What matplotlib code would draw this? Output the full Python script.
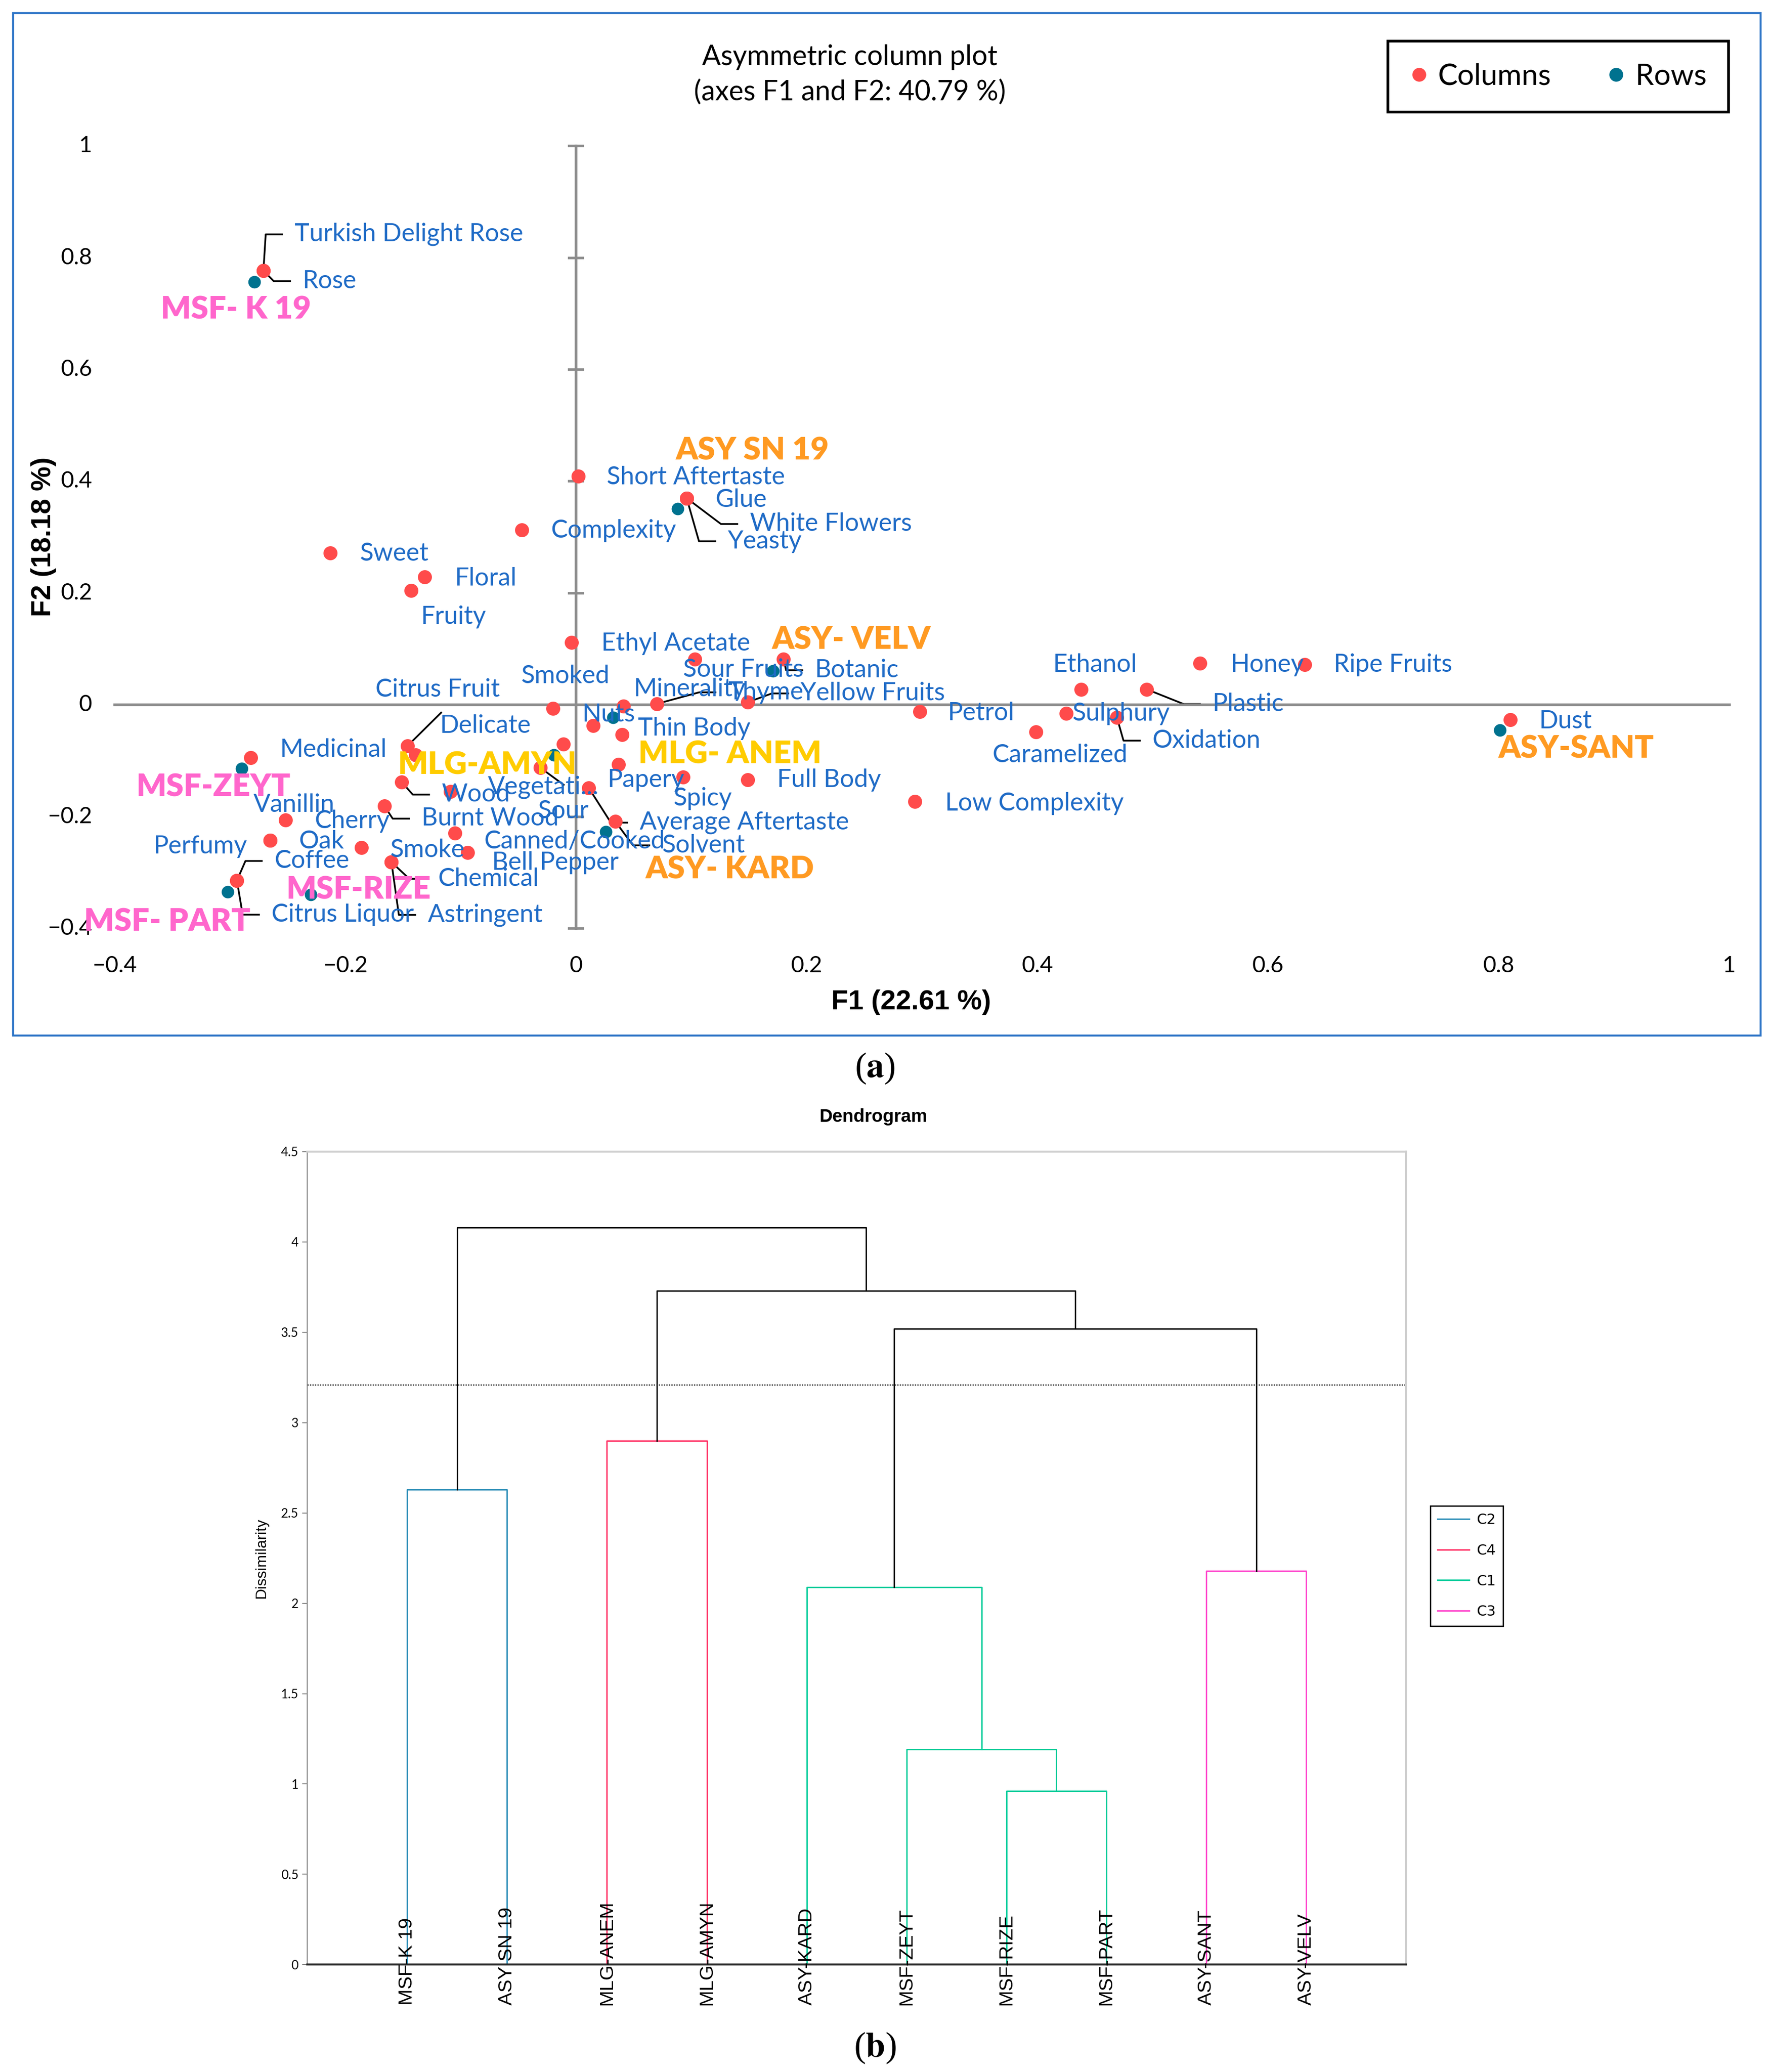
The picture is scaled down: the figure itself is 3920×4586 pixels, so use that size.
import matplotlib.pyplot as plt
from matplotlib.lines import Line2D
from matplotlib.patches import Rectangle

plt.rcParams['font.family'] = ['Lato', 'DejaVu Sans']

# ---- (a) asymmetric column plot: columns = sensory attributes
col_names = ["Turkish Delight Rose", "Rose", "Sweet", "Floral", "Fruity", "Short Aftertaste",
             "Complexity", "Glue", "White Flowers", "Yeasty", "Ethyl Acetate", "Sour Fruits",
             "Botanic", "Smoked", "Nuts", "Minerality", "Thyme", "Yellow Fruits", "Thin Body",
             "Sour", "Papery", "Spicy", "Full Body", "Average Aftertaste", "Solvent", "Vegetati...",
             "Medicinal", "Citrus Fruit", "Delicate", "Wood", "Vanillin", "Burnt Wood", "Cherry",
             "Oak", "Perfumy", "Smoke", "Canned/Cooked", "Bell Pepper", "Chemical", "Astringent",
             "Coffee", "Citrus Liquor", "Petrol", "Ethanol", "Honey", "Ripe Fruits", "Plastic",
             "Sulphury", "Oxidation", "Caramelized", "Low Complexity", "Dust"]
col_f1 = [-0.271, -0.271, -0.213, -0.131, -0.143, 0.002,
          -0.047, 0.096, 0.096, 0.096, -0.004, 0.103,
          0.180, -0.020, 0.015, 0.041, 0.070, 0.149, 0.040,
          -0.011, 0.037, 0.093, 0.149, 0.011, 0.034, -0.031,
          -0.282, -0.146, -0.139, -0.151, -0.109, -0.166, -0.252,
          -0.265, -0.265, -0.186, -0.105, -0.094, -0.160, -0.160,
          -0.294, -0.294, 0.298, 0.438, 0.541, 0.632, 0.495,
          0.425, 0.469, 0.399, 0.294, 0.810]
col_f2 = [0.777, 0.777, 0.272, 0.229, 0.205, 0.409,
          0.313, 0.370, 0.370, 0.370, 0.112, 0.082,
          0.082, -0.006, -0.037, -0.002, 0.002, 0.005, -0.053,
          -0.070, -0.106, -0.129, -0.134, -0.148, -0.208, -0.112,
          -0.094, -0.073, -0.089, -0.138, -0.155, -0.181, -0.206,
          -0.242, -0.242, -0.255, -0.229, -0.264, -0.281, -0.281,
          -0.314, -0.314, -0.012, 0.028, 0.075, 0.072, 0.028,
          -0.015, -0.022, -0.048, -0.173, -0.026]

# rows = wine samples
row_names = ["MSF- K 19", "ASY SN 19", "ASY- VELV", "ASY-SANT", "MLG-AMYN",
             "MLG- ANEM", "ASY- KARD", "MSF-ZEYT", "MSF-RIZE", "MSF- PART"]
row_f1 = [-0.279, 0.088, 0.171, 0.801, -0.019, 0.032, 0.026, -0.290, -0.230, -0.302]
row_f2 = [0.757, 0.351, 0.061, -0.045, -0.089, -0.022, -0.227, -0.114, -0.339, -0.334]

ticks = [-0.4, -0.2, 0, 0.2, 0.4, 0.6, 0.8, 1]
tick_labels = ["\u22120.4", "\u22120.2", "0", "0.2", "0.4", "0.6", "0.8", "1"]

# label placement (offset in points from the point) and leader style
col_lab_off = [(24.8, 28.9), (31.2, -8.4), (23.3, -0.5), (23.8, -1.4), (8, -21), (22.8, -0.8),
               (23.1, -0.6), (22.7, -1.4), (50.3, -20.6), (32.8, -34.4), (23.7, -1.1), (-9.3, -8.4),
               (25, -8.8), (-25.5, 25.7), (-8.9, 9), (8.4, 13.6), (56.8, 9.2), (42.2, 7), (12.6, 4.9),
               (-20.5, -53.6), (-8.9, -12.7), (-8.1, -17), (23.2, 0), (40.7, -27.8), (37.2, -19.2), (-41.9, -15.6),
               (23.4, 6.1), (-25.7, 44.7), (19.3, 23.1), (31.7, -9.9), (-157, -10.7), (29.5, -9.9), (23.4, -0.8),
               (22.7, -0.8), (-92.9, -5), (22.6, -2.1), (23.4, -6.7), (19.6, -7.9), (37.2, -13.3), (28.9, -42.1),
               (29.8, 15.6), (27.6, -27.2), (22.6, -1), (-22.3, 19.5), (24.5, -1.4), (22.8, 0), (52.3, -11.7),
               (4.9, -0.3), (28.3, -18.6), (-34.8, -18.6), (24, -1.6), (23.1, -1.4)]
elbow = {"Turkish Delight Rose", "Rose", "White Flowers", "Yeasty", "Botanic", "Thyme",
         "Yellow Fruits", "Average Aftertaste", "Solvent", "Wood", "Burnt Wood", "Chemical",
         "Astringent", "Coffee", "Citrus Liquor", "Plastic", "Oxidation"}
straight = {"Vegetati...": (18.7, -13.7), "Citrus Fruit": (26.7, 26.4)}
row_lab_off = [(-74.3, -22.4), (-1.3, 46), (-0.8, 24.5), (-1, -15.2), (-124.7, -8.3),
               (20.2, -29.8), (31.5, -30.2), (-84, -14.9), (-19.5, 3.6), (-114.4, -24.3)]
grp_color = {"MSF": "#FF66CC", "ASY": "#FF9A22", "MLG": "#FFCC00"}

# ---- (b) dendrogram
leaves = ["MSF-K 19", "ASY SN 19", "MLG-ANEM", "MLG-AMYN", "ASY-KARD",
          "MSF-ZEYT", "MSF-RIZE", "MSF-PART", "ASY-SANT", "ASY-VELV"]
# (child a, child b, dissimilarity); nodes 0-9 are leaves, merges numbered from 10
merges = [(0, 1, 2.63), (2, 3, 2.90), (6, 7, 0.96), (5, 12, 1.19), (4, 13, 2.09),
          (8, 9, 2.18), (14, 15, 3.52), (11, 16, 3.73), (10, 17, 4.08)]
merge_cluster = ["C2", "C4", "C1", "C1", "C1", "C3", None, None, None]
cut_level = 3.21
clus_color = {"C2": "#2E8FB8", "C4": "#FF3366", "C1": "#00CC99", "C3": "#FF44CC"}
legend_order = ["C2", "C4", "C1", "C3"]

W, H = 1336, 1563  # layout grid of the reference
fig = plt.figure(figsize=(19.6, 22.93), dpi=200)

ax = fig.add_axes([86.5 / W, 1 - 700.5 / H, 1218 / W, 590.4 / H])
ax.set_xlim(-0.4, 1)
ax.set_ylim(-0.4, 1)
for s in ["top", "right"]:
    ax.spines[s].set_visible(False)
for s in ["left", "bottom"]:
    ax.spines[s].set_position(("data", 0))
    ax.spines[s].set_color("#8c8c8c")
    ax.spines[s].set_linewidth(2.2)
ax.set_xticks(ticks)
ax.set_yticks(ticks)
ax.tick_params(axis="y", direction="inout", length=13, width=2, color="#8c8c8c", labelleft=False)
ax.tick_params(axis="x", length=0, labelbottom=False)
for v, t in zip(ticks, tick_labels):
    ax.text(-0.014, v, t, transform=ax.get_yaxis_transform(), ha="right", va="center", fontsize=18)
    ax.text(v, -0.048, t, transform=ax.get_xaxis_transform(), ha="center", va="center", fontsize=18)


def shift(x, y, dx, dy):
    px, py = ax.transData.transform((x, y))
    k = fig.dpi / 72
    return ax.transData.inverted().transform((px + dx * k, py + dy * k))


red, teal, blue = "#FF4B4B", "#00728F", "#1F6BC6"
ax.scatter(col_f1, col_f2, s=125, color=red, zorder=3, linewidths=0)
ax.scatter(row_f1, row_f2, s=100, color=teal, zorder=3, linewidths=0)

for name, x, y, (dx, dy) in zip(col_names, col_f1, col_f2, col_lab_off):
    ax.annotate(name, (x, y), xytext=(dx, dy), textcoords="offset points",
                ha="left", va="center", fontsize=20, color=blue, zorder=4)
    if name in elbow:
        p1 = shift(x, y, dx - 23, dy)
        p2 = shift(x, y, dx - 10, dy)
        ax.plot([x, p1[0], p2[0]], [y, p1[1], p2[1]], color="black", lw=1.4, zorder=2)
    elif name in straight:
        p1 = shift(x, y, *straight[name])
        ax.plot([x, p1[0]], [y, p1[1]], color="black", lw=1.4, zorder=2)

for name, x, y, (dx, dy) in zip(row_names, row_f1, row_f2, row_lab_off):
    ax.annotate(name, (x, y), xytext=(dx, dy), textcoords="offset points",
                ha="left", va="center", fontsize=25, fontweight="heavy",
                color=grp_color[name[:3]], zorder=5)

fig.text(641 / W, 1 - 56.4 / H, "Asymmetric column plot\n(axes F1 and F2: 40.79 %)",
         ha="center", va="center", fontsize=22, linespacing=1.45)
fig.text(687.5 / W, 1 - 756 / H, "F1 (22.61 %)", ha="center", va="center",
         fontsize=22, fontweight="bold", family="Liberation Sans")
fig.text(33 / W, 1 - 405 / H, "F2 (18.18 %)", ha="center", va="center", rotation=90,
         fontsize=22, fontweight="bold", family="Liberation Sans")

handles = [Line2D([], [], ls="", marker="o", ms=10, color=red),
           Line2D([], [], ls="", marker="o", ms=10, color=teal)]
leg = ax.legend(handles, ["Columns", "Rows"], loc="upper right", ncol=2,
                bbox_to_anchor=(1304 / W, 1 - 31 / H), bbox_transform=fig.transFigure,
                fontsize=23.5, fancybox=False, edgecolor="black", framealpha=1, borderaxespad=0,
                handlelength=0.6, handletextpad=0.35, columnspacing=1.9, borderpad=0.75)
leg.get_frame().set_linewidth(2.2)

fig.add_artist(Rectangle((10 / W, 1 - 781 / H), 1318 / W, 771 / H, transform=fig.transFigure,
                         fill=False, edgecolor="#2E75C7", lw=1.6))
fig.text(660 / W, 1 - 806 / H, r"($\mathbf{a}$)", ha="center", va="center", fontsize=28,
         family="Liberation Serif", math_fontfamily="stix")

# ---- dendrogram
ax2 = fig.add_axes([231.8 / W, 1 - 1482 / H, 828.9 / W, 613.3 / H])
ax2.set_xlim(0, len(leaves) + 1)
ax2.set_ylim(0, 4.5)
for s in ["top", "right"]:
    ax2.spines[s].set_color("#cfcfcf")
    ax2.spines[s].set_linewidth(1.6)
ax2.spines["left"].set_color("#888888")
ax2.spines["bottom"].set_color("#222222")
ax2.spines["bottom"].set_linewidth(1.6)
ax2.set_xticks([])
ax2.set_yticks([0, 0.5, 1, 1.5, 2, 2.5, 3, 3.5, 4, 4.5])
ax2.set_yticklabels(["0", "0.5", "1", "1.5", "2", "2.5", "3", "3.5", "4", "4.5"])
ax2.tick_params(axis="y", length=4, color="#888888", labelsize=10, pad=3)
ax2.set_ylabel("Dissimilarity", fontsize=12, family="Liberation Sans", labelpad=10)

pos = {i: i + 1.0 for i in range(len(leaves))}
hgt = {i: 0.0 for i in range(len(leaves))}
for k, ((a, b, h), cl) in enumerate(zip(merges, merge_cluster)):
    node = len(leaves) + k
    c = clus_color[cl] if cl else "black"
    ax2.plot([pos[a], pos[a], pos[b], pos[b]], [hgt[a], h, h, hgt[b]], color=c, lw=1.1)
    pos[node] = (pos[a] + pos[b]) / 2
    hgt[node] = h
ax2.axhline(cut_level, color="#333333", ls=(0, (1, 1)), lw=1)

for i, name in enumerate(leaves):
    ax2.text(pos[i], -0.05, name, rotation=90, ha="center", va="bottom",
             transform=ax2.get_xaxis_transform(), fontsize=15.5, family="Liberation Sans")

fig.text(658.7 / W, 1 - 842.6 / H, "Dendrogram", ha="center", va="center",
         fontsize=14.5, fontweight="bold", family="Liberation Sans")
lh = [Line2D([], [], color=clus_color[c], lw=1.2) for c in legend_order]
leg2 = ax2.legend(lh, legend_order, loc="upper left", bbox_to_anchor=(1079 / W, 1 - 1136 / H),
                  bbox_transform=fig.transFigure, fancybox=False, edgecolor="black",
                  framealpha=1, handlelength=2.2, handletextpad=0.5, labelspacing=1.15,
                  borderpad=0.5, borderaxespad=0, prop={"family": "DejaVu Sans", "size": 11.5})
leg2.get_frame().set_linewidth(1)

fig.text(660 / W, 1 - 1545 / H, r"($\mathbf{b}$)", ha="center", va="center", fontsize=28,
         family="Liberation Serif", math_fontfamily="stix")

fig.savefig("out.png", dpi=200)
